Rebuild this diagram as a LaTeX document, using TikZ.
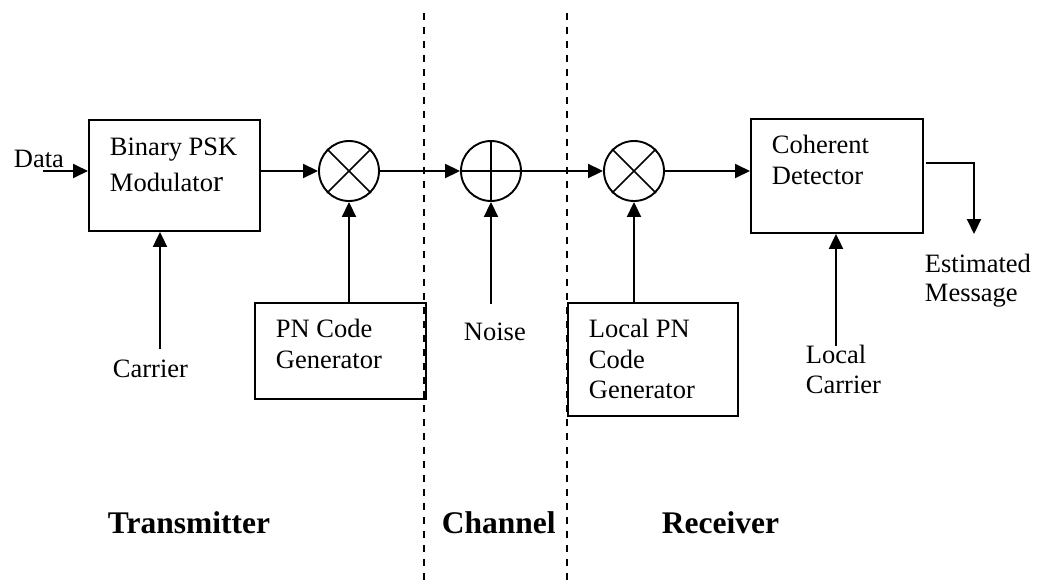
\documentclass[tikz,border=0pt]{standalone}
\usepackage{fontspec}
\setmainfont{Liberation Serif}
\usetikzlibrary{arrows.meta}

\begin{document}
\begin{tikzpicture}[x=1pt,y=-1pt,
  line width=1.9pt,
  arr/.style={-{Triangle[length=15pt,width=14pt]}},
  blk/.style={draw,rectangle,anchor=north west,inner sep=0pt},
  junction/.style={draw,circle,minimum size=60pt,inner sep=0pt},
  txt/.style={anchor=base west,inner sep=0pt,font=\fontsize{26.5}{31}\selectfont},
  title/.style={anchor=base west,inner sep=0pt,font=\fontsize{31.5}{36}\selectfont\bfseries},
  divider/.style={line width=1.6pt,dash pattern=on 7pt off 7pt}]

\useasboundingbox (0,0) rectangle (1037,587);

% section dividers
\draw[divider] (424,13) -- (424,587);
\draw[divider] (567,13) -- (567,587);

% blocks
\node[blk,minimum width=171pt,minimum height=111pt] (bpsk) at (88,119) {};
\node[blk,minimum width=171pt,minimum height=96pt] (pn) at (254,302) {};
\node[blk,minimum width=170pt,minimum height=113pt] (lpn) at (567,302) {};
\node[blk,minimum width=172pt,minimum height=114pt] (coh) at (750,118) {};

% multipliers and adder
\node[junction] (m1) at (349,171) {};
\draw[line width=1.6pt] (m1.north east) -- (m1.south west) (m1.north west) -- (m1.south east);
\node[junction] (add) at (491,171) {};
\draw[line width=1.6pt] (add.north) -- (add.south) (add.west) -- (add.east);
\node[junction] (m2) at (634,171) {};
\draw[line width=1.6pt] (m2.north east) -- (m2.south west) (m2.north west) -- (m2.south east);

% block texts
\node[txt] (t1) at (109,155) {Binary PSK};
\node[txt] (t2) at (109,191) {Modulato{\fontsize{30}{30}\selectfont r}};
\node[txt] (t3) at (275,337) {PN Code};
\node[txt] (t4) at (275,368) {Generator};
\node[txt] (t5) at (588,337) {Local PN};
\node[txt] (t6) at (588,368) {Code};
\node[txt] (t7) at (588,398) {Generator};
\node[txt] (t8) at (771,153) {Coherent};
\node[txt] (t9) at (771,184) {Detector};

% free labels
\node[txt] (data) at (13,167) {Data};
\node[txt] (carrier) at (112,377) {Carrier};
\node[txt] (noise) at (463,340) {Noise};
\node[txt] (lc1) at (805,363) {Local};
\node[txt] (lc2) at (805,393) {Carrier};
\node[txt] (em1) at (924,272) {Estimated};
\node[txt] (em2) at (924,301) {Message};

\node[title] (tx) at (107,533) {Transmitter};
\node[title] (ch) at (441,533) {Channel};
\node[title] (rx) at (661,533) {Receiver};

% connector end points
\coordinate (din) at (43,171);
\coordinate (cin) at (160,349);
\coordinate (nin) at (491,304);
\coordinate (lcin) at (836,346);
\coordinate (oout) at (926,163);
\coordinate (oend) at (974,234);

% signal path
\draw[arr] (din) -- (bpsk.west |- din);
\draw[arr] (bpsk.east |- m1) -- (m1.west);
\draw[arr] (m1.east) -- (add.west);
\draw[arr] (add.east) -- (m2.west);
\draw[arr] (m2.east) -- (coh.west |- m2);
\draw[arr] (oout) -| (oend);

% side inputs
\draw[arr] (cin) -- (bpsk.south -| cin);
\draw[arr] (pn.north -| m1) -- (m1.south);
\draw[arr] (nin) -- (add.south);
\draw[arr] (lpn.north -| m2) -- (m2.south);
\draw[arr] (lcin) -- (coh.south -| lcin);

\end{tikzpicture}
\end{document}
